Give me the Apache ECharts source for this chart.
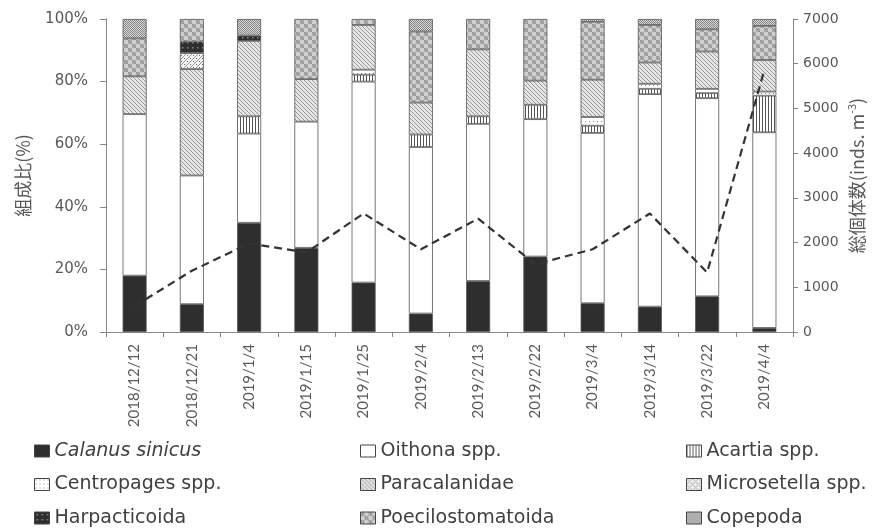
<!DOCTYPE html>
<html>
<head>
<meta charset="utf-8">
<script src="https://cdn.jsdelivr.net/npm/echarts@6/dist/echarts.min.js"></script>
<style>
html,body{margin:0;padding:0;background:#fff;}
#chart{width:886px;height:530px;}
</style>
</head>
<body>
<div id="chart"></div>
<script>
// ---- data ----
const categories = ['2018/12/12','2018/12/21','2019/1/4','2019/1/15','2019/1/25','2019/2/4','2019/2/13','2019/2/22','2019/3/4','2019/3/14','2019/3/22','2019/4/4'];
const calanus        = [18.0, 8.9, 34.9, 26.9, 15.8, 5.9, 16.3, 24.1, 9.2, 8.1, 11.4, 1.3];
const oithona        = [51.6, 41.1, 28.5, 40.3, 64.2, 53.2, 50.2, 43.9, 54.4, 67.9, 63.3, 62.5];
const acartia        = [0, 0, 5.5, 0, 2.2, 4.0, 2.4, 4.6, 2.3, 1.7, 1.6, 11.7];
const centropages    = [0, 0, 0, 0, 1.6, 0, 0, 0, 2.8, 1.6, 1.4, 1.3];
const paracalanidae  = [12.1, 34.0, 24.1, 13.6, 14.3, 10.2, 21.4, 7.7, 11.9, 6.8, 11.9, 10.1];
const microsetella   = [0, 5.1, 0, 0, 0, 0, 0, 0, 0, 0, 0, 0];
const harpacticoida  = [0, 3.7, 1.7, 0, 0, 0, 0, 0, 0, 0, 0, 0];
const poecilo        = [12.1, 7.2, 0, 19.2, 1.9, 22.7, 9.7, 19.7, 18.5, 12.0, 7.1, 10.9];
const copepoda       = [6.2, 0, 5.3, 0, 0, 4.0, 0, 0, 0.9, 1.9, 3.3, 2.2];
const totalDensity   = [580, 1370, 1980, 1780, 2650, 1850, 2535, 1515, 1850, 2650, 1330, 5860];
const pctTicks = [0, 20, 40, 60, 80, 100];
const densTicks = [0, 1000, 2000, 3000, 4000, 5000, 6000, 7000];

// ---- patterns ----
function pat(w, h, fn) {
  const c = document.createElement('canvas');
  c.width = w; c.height = h;
  const g = c.getContext('2d');
  fn(g, w, h);
  return { image: c, repeat: 'repeat' };
}
const fills = {
  calanus: '#2e2e2e',
  oithona: '#ffffff',
  acartia: pat(3, 3, (g) => { g.fillStyle = '#fff'; g.fillRect(0,0,3,3); g.fillStyle = '#555'; g.fillRect(0,0,1,3); }),
  centropages: pat(4, 4, (g) => { g.fillStyle = '#fff'; g.fillRect(0,0,4,4); g.fillStyle = '#888'; g.fillRect(1,1,1,1); }),
  paracalanidae: pat(4, 4, (g) => { g.fillStyle = '#e6e6e6'; g.fillRect(0,0,4,4); g.fillStyle = '#9a9a9a'; for (let i=0;i<4;i++) g.fillRect(i,i,1,1); }),
  microsetella: pat(6, 6, (g) => { g.fillStyle = '#f4f4f4'; g.fillRect(0,0,6,6); g.fillStyle = '#9a9a9a'; for (let i=0;i<6;i++) g.fillRect(5-i,i,1,1); g.fillStyle='#666'; g.fillRect(1,1,1,1); g.fillRect(4,4,1,1); }),
  harpacticoida: pat(5, 5, (g) => { g.fillStyle = '#2e2e2e'; g.fillRect(0,0,5,5); g.fillStyle = '#8a8a8a'; g.fillRect(2,2,1.5,1.5); }),
  poecilo: pat(8, 8, (g) => {
    g.fillStyle = '#cfcfcf'; g.fillRect(0,0,8,8);
    g.fillStyle = '#a8a8a8'; g.fillRect(0,0,4,4); g.fillRect(4,4,4,4);
    g.fillStyle = '#929292'; for (let i=0;i<8;i++) g.fillRect(i,i,1,1);
  }),
  copepoda: pat(2, 2, (g) => { g.fillStyle = '#d8d8d8'; g.fillRect(0,0,2,2); g.fillStyle = '#858585'; g.fillRect(0,0,1,1); g.fillRect(1,1,1,1); })
};

const seriesDefs = [
  ['Calanus sinicus', calanus, fills.calanus],
  ['Oithona spp.', oithona, fills.oithona],
  ['Acartia spp.', acartia, fills.acartia],
  ['Centropages spp.', centropages, fills.centropages],
  ['Paracalanidae', paracalanidae, fills.paracalanidae],
  ['Microsetella spp.', microsetella, fills.microsetella],
  ['Harpacticoida', harpacticoida, fills.harpacticoida],
  ['Poecilostomatoida', poecilo, fills.poecilo],
  ['Copepoda', copepoda, fills.copepoda]
];

const tickFont = { fontFamily: 'DejaVu Sans', fontSize: 15, color: '#595959' };
const axisGrey = '#868686';

const barSeries = seriesDefs.map(([name, vals, fill]) => ({
  name: name,
  type: 'bar',
  stack: 'comp',
  barWidth: 24,
  yAxisIndex: 0,
  z: 2,
  data: vals.map(v => (v === 0 ? '-' : v)),
  itemStyle: { color: fill, borderColor: '#555', borderWidth: 0.8 },
  emphasis: { disabled: true }
}));

const lineSeries = {
  name: 'total',
  type: 'line',
  yAxisIndex: 1,
  z: 5,
  symbol: 'none',
  data: totalDensity,
  lineStyle: { color: '#333', width: 2.2, type: [8, 5] },
  emphasis: { disabled: true }
};

const legendText = {
  fontFamily: 'DejaVu Sans', fontSize: 19, color: '#404040', lineHeight: 20,
  rich: { i: { fontFamily: 'DejaVu Sans', fontSize: 19, fontStyle: 'italic', color: '#404040', lineHeight: 20 } }
};
function mkLegend(left, names) {
  return {
    orient: 'vertical',
    left: left,
    top: 441,
    width: 220,
    height: 120,
    padding: 0,
    itemWidth: 15,
    itemHeight: 12,
    itemGap: 13.5,
    icon: 'rect',
    selectedMode: false,
    data: names,
    textStyle: legendText,
    formatter: (n) => n === 'Calanus sinicus' ? '{i|Calanus sinicus}' : n,
    itemStyle: { borderColor: '#444', borderWidth: 1 }
  };
}

const option = {
  animation: false,
  backgroundColor: '#fff',
  grid: { left: 106, right: 93, top: 19, bottom: 198 },
  legend: [
    mkLegend(34, ['Calanus sinicus', 'Centropages spp.', 'Harpacticoida']),
    mkLegend(360, ['Oithona spp.', 'Paracalanidae', 'Poecilostomatoida']),
    mkLegend(686, ['Acartia spp.', 'Microsetella spp.', 'Copepoda'])
  ],
  xAxis: {
    type: 'category',
    data: categories,
    axisLine: { lineStyle: { color: axisGrey, width: 1 } },
    axisTick: { show: true, length: 5, lineStyle: { color: axisGrey } },
    axisLabel: { rotate: 90, interval: 0, margin: 12, fontFamily: 'Lato', fontSize: 15, color: '#595959' }
  },
  yAxis: [
    {
      type: 'value',
      min: pctTicks[0], max: pctTicks[pctTicks.length - 1], interval: 20,
      name: '組成比(%)',
      nameLocation: 'middle',
      nameRotate: 90,
      nameGap: 74,
      nameTextStyle: { fontFamily: 'Noto Sans CJK JP', fontSize: 18, color: '#595959' },
      axisLine: { show: true, lineStyle: { color: axisGrey, width: 1 } },
      axisTick: { show: true, length: 6, lineStyle: { color: axisGrey } },
      axisLabel: Object.assign({ formatter: '{value}%', margin: 18 }, tickFont),
      splitLine: { show: false }
    },
    {
      type: 'value',
      position: 'right',
      min: densTicks[0], max: densTicks[densTicks.length - 1], interval: 1000,
      name: '総個体数(inds. m{sup|-3})',
      nameLocation: 'middle',
      nameRotate: 90,
      nameGap: 53,
      nameMoveOverlap: false,
      nameTextStyle: {
        fontFamily: 'Noto Sans CJK JP', fontSize: 18, color: '#595959', lineHeight: 22,
        rich: { sup: { fontFamily: 'Noto Sans CJK JP', fontSize: 11, color: '#595959', verticalAlign: 'top', lineHeight: 22 } }
      },
      axisLine: { show: true, lineStyle: { color: axisGrey, width: 1 } },
      axisTick: { show: true, length: 5, lineStyle: { color: axisGrey } },
      axisLabel: { margin: 10, formatter: (v) => String(v), fontFamily: 'DejaVu Sans', fontSize: 14, color: '#595959' },
      splitLine: { show: false }
    }
  ],
  series: barSeries.concat([lineSeries])
};

const chart = echarts.init(document.getElementById('chart'), null, { renderer: 'canvas' });
chart.setOption(option);
</script>
</body>
</html>
